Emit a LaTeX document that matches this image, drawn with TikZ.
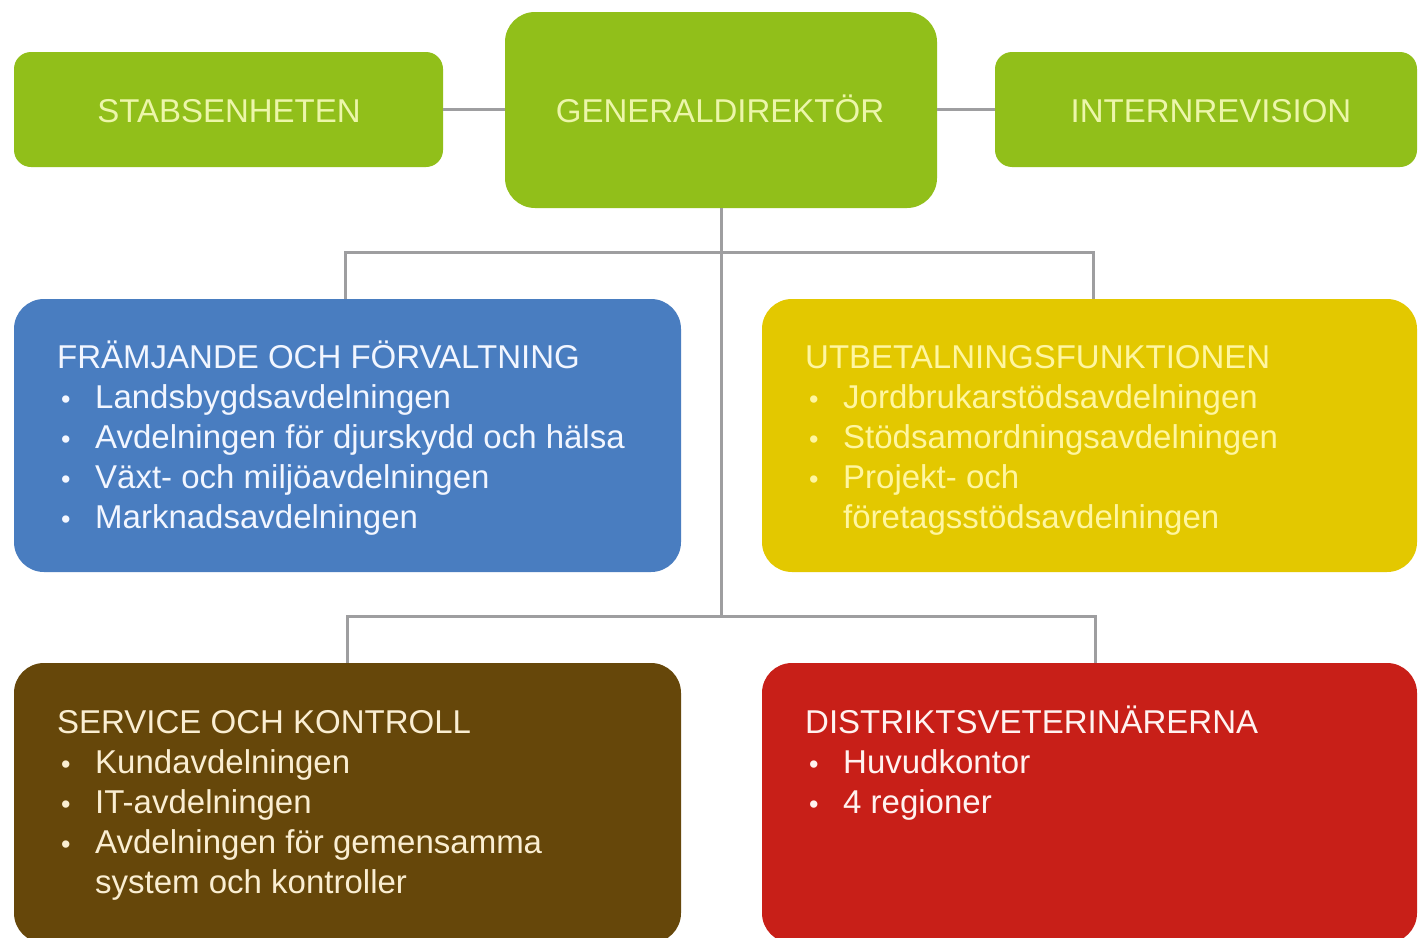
\documentclass[tikz,border=0pt]{standalone}
\usepackage{fontspec}
\setmainfont{Liberation Sans}
\definecolor{grn}{RGB}{145,191,26}
\definecolor{grntxt}{RGB}{236,246,170}
\definecolor{blu}{RGB}{73,125,192}
\definecolor{blutxt}{RGB}{242,246,255}
\definecolor{yel}{RGB}{227,200,0}
\definecolor{yeltxt}{RGB}{255,246,160}
\definecolor{brn}{RGB}{102,71,10}
\definecolor{brntxt}{RGB}{250,238,210}
\definecolor{rd}{RGB}{200,31,24}
\definecolor{rdtxt}{RGB}{255,242,240}
\definecolor{conn}{RGB}{158,158,160}
\newcommand\bline[5]{%
  \node[txt,anchor=base west] (#1b) at (#2,#4) {\fontsize{27}{40}\selectfont\textbullet};
  \node[txt,anchor=base west] (#1) at (#3,#4) {#5};}
\begin{document}
\begin{tikzpicture}[x=1pt,y=-1pt,
  box/.style={draw=none, inner sep=0pt},
  gbox/.style={box, fill=grn, rounded corners=17pt},
  bigbox/.style={box, rounded corners=30pt},
  txt/.style={inner sep=0pt, font=\fontsize{33}{40}\selectfont},
  link/.style={draw=conn, line width=3pt}]
\useasboundingbox (0,0) rectangle (1418,937);
\fill[white] (0,0) rectangle (1418,937);

\coordinate (a1) at (345,252);
\coordinate (a2) at (1093,252);
\coordinate (b1) at (347,616);
\coordinate (b2) at (1095,616);
\coordinate (bm) at (721,616);

% green boxes
\node[gbox, minimum width=429pt, minimum height=115pt] (stab) at (228.5,109.5) {};
\node[gbox, rounded corners=30pt, minimum width=432pt, minimum height=196pt] (gd) at (721,110) {};
\node[gbox, minimum width=422pt, minimum height=115pt] (intern) at (1206,109.5) {};
\node[txt, text=grntxt, anchor=base] (stabtxt) at (229,122) {STABSENHETEN};
\node[txt, text=grntxt, anchor=base] (gdtxt) at (720,122) {GENERALDIREKTÖR};
\node[txt, text=grntxt, anchor=base] (interntxt) at (1211,122) {INTERNREVISION};

% big boxes
\node[bigbox, fill=blu, minimum width=667pt, minimum height=273pt] (blue) at (347.5,435.5) {};
\node[bigbox, fill=yel, minimum width=655pt, minimum height=273pt] (yellow) at (1089.5,435.5) {};
\node[bigbox, fill=brn, minimum width=667pt, minimum height=280pt] (brown) at (347.5,803) {};
\node[bigbox, fill=rd, minimum width=655pt, minimum height=280pt] (red) at (1089.5,803) {};

% connectors
\draw[link] (stab.east) -- (gd.west |- stab.east);
\draw[link] (gd.east |- intern.west) -- (intern.west);
\draw[link] (gd.south) -- (bm);
\draw[link] (blue.north -| a1) -- (a1) -- (a2) -- (yellow.north -| a2);
\draw[link] (brown.north -| b1) -- (b1) -- (b2) -- (red.north -| b2);

% blue texts
\begin{scope}[every node/.append style={text=blutxt}]
\node[txt,anchor=base west] (bh) at (57,368) {FRÄMJANDE OCH FÖRVALTNING};
\bline{b1t}{61}{95}{408}{Landsbygdsavdelningen}
\bline{b2t}{61}{95}{448}{Avdelningen för djurskydd och hälsa}
\bline{b3t}{61}{95}{488}{Växt- och miljöavdelningen}
\bline{b4t}{61}{95}{528}{Marknadsavdelningen}
\end{scope}

% yellow texts
\begin{scope}[every node/.append style={text=yeltxt}]
\node[txt,anchor=base west] (yh) at (805,368) {UTBETALNINGSFUNKTIONEN};
\bline{y1t}{809}{843}{408}{Jordbrukarstödsavdelningen}
\bline{y2t}{809}{843}{448}{Stödsamordningsavdelningen}
\bline{y3t}{809}{843}{488}{Projekt- och}
\node[txt,anchor=base west] (y4t) at (843,528) {företagsstödsavdelningen};
\end{scope}

% brown texts
\begin{scope}[every node/.append style={text=brntxt}]
\node[txt,anchor=base west] (sh) at (57,733) {SERVICE OCH KONTROLL};
\bline{s1t}{61}{95}{773}{Kundavdelningen}
\bline{s2t}{61}{95}{813}{IT-avdelningen}
\bline{s3t}{61}{95}{853}{Avdelningen för gemensamma}
\node[txt,anchor=base west] (s4t) at (95,893) {system och kontroller};
\end{scope}

% red texts
\begin{scope}[every node/.append style={text=rdtxt}]
\node[txt,anchor=base west] (rh) at (805,733) {DISTRIKTSVETERINÄRERNA};
\bline{r1t}{809}{843}{773}{Huvudkontor}
\bline{r2t}{809}{843}{813}{4 regioner}
\end{scope}
\end{tikzpicture}
\end{document}
